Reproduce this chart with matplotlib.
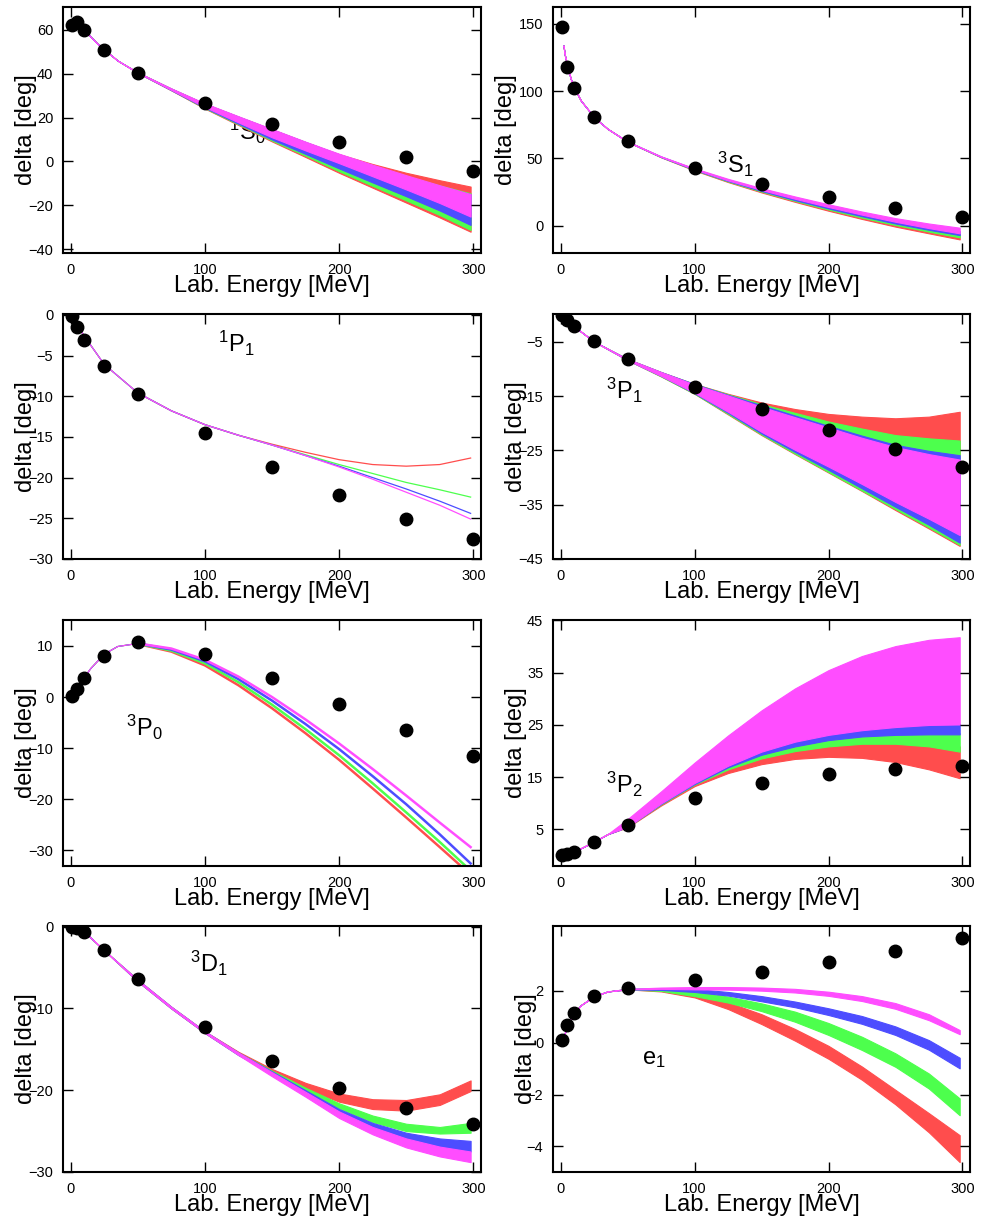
import matplotlib
matplotlib.use('Agg')
import matplotlib.pyplot as plt

plt.rcParams['font.family'] = ['Liberation Sans', 'DejaVu Sans']
plt.rcParams['mathtext.fontset'] = 'custom'
plt.rcParams['mathtext.rm'] = 'Liberation Sans'
plt.rcParams['mathtext.it'] = 'Liberation Sans:italic'
plt.rcParams['mathtext.bf'] = 'Liberation Sans:bold'

# ---------------- data ----------------
energy_data = [1, 5, 10, 25, 50, 100, 150, 200, 250, 300]
energy_band = [50, 75, 100, 125, 150, 175, 200, 225, 250, 275, 298]
colors = {'red': '#ff4d4d', 'green': '#4dff4d', 'blue': '#4d4dff', 'magenta': '#ff4dff'}
order = ['red', 'green', 'blue', 'magenta']

# 1S0
pwa_1S0 = [62.07, 63.63, 59.96, 50.90, 40.54, 26.78, 16.94, 8.94, 2.04, -4.46]
thin_e_1S0 = [10, 15, 20, 25, 35, 50]
thin_d_1S0 = [60.0, 56.8, 53.7, 51.0, 46.0, 40.5]
red_hi_1S0 = [40.6, 33.2, 26.3, 20.4, 14.6, 8.8, 3.3, -1.2, -5.2, -8.6, -11.5]
red_lo_1S0 = [40.4, 32.4, 24.1, 16.6, 9.1, 2.0, -5.2, -12.0, -18.8, -25.6, -32.1]
green_hi_1S0 = [40.6, 33.2, 26.3, 20.4, 14.6, 8.8, 3.2, -1.8, -6.7, -11.0, -14.6]
green_lo_1S0 = [40.4, 32.5, 24.3, 16.9, 9.5, 2.6, -4.5, -11.2, -17.8, -24.5, -31.3]
blue_hi_1S0 = [40.6, 33.2, 26.3, 20.4, 14.6, 8.8, 3.2, -2.0, -7.0, -11.5, -15.0]
blue_lo_1S0 = [40.4, 32.5, 24.5, 17.2, 10.0, 3.4, -3.2, -9.6, -15.9, -22.4, -29.0]
mag_hi_1S0 = [40.6, 33.3, 26.5, 20.6, 14.8, 9.0, 3.5, -1.5, -6.3, -10.9, -14.9]
mag_lo_1S0 = [40.4, 32.6, 24.8, 17.8, 11.0, 5.0, -0.8, -6.8, -12.8, -19.0, -25.2]

# 3S1
pwa_3S1 = [147.75, 118.18, 102.61, 80.63, 62.77, 43.23, 30.72, 21.22, 13.39, 6.60]
thin_e_3S1 = [2, 3, 5, 7.5, 10, 15, 25, 35, 50]
thin_d_3S1 = [134, 127, 118, 109, 102.5, 93, 80.5, 72, 62.4]
red_hi_3S1 = [62.5, 51.2, 41.9, 33.7, 26.4, 19.7, 13.4, 7.6, 2.2, -2.5, -6.0]
red_lo_3S1 = [62.3, 50.8, 41.0, 32.4, 24.7, 17.7, 11.1, 5.0, -0.7, -5.7, -10.2]
green_hi_3S1 = [62.5, 51.3, 42.1, 34.0, 26.8, 20.2, 14.0, 8.3, 3.0, -1.6, -5.0]
green_lo_3S1 = [62.3, 50.9, 41.3, 32.8, 25.3, 18.4, 12.0, 6.0, 0.5, -4.4, -8.7]
blue_hi_3S1 = [62.5, 51.4, 42.3, 34.3, 27.2, 20.7, 14.6, 9.0, 3.8, -0.7, -4.0]
blue_lo_3S1 = [62.3, 51.0, 41.5, 33.2, 25.8, 19.0, 12.8, 7.0, 1.6, -3.1, -7.0]
mag_hi_3S1 = [62.5, 51.5, 42.6, 34.8, 27.9, 21.7, 15.9, 10.5, 5.6, 1.6, -1.5]
mag_lo_3S1 = [62.3, 51.1, 41.8, 33.6, 26.5, 20.0, 13.9, 8.2, 2.9, -1.8, -5.7]

# 1P1 (lines)
pwa_1P1 = [-0.19, -1.49, -3.08, -6.31, -9.67, -14.52, -18.65, -22.18, -25.13, -27.58]
thin_e_1P1 = [1, 5, 10, 25, 50]
thin_d_1P1 = [-0.2, -1.3, -2.6, -6.1, -9.6]
red_1P1 = [-9.6, -11.8, -13.5, -14.8, -15.9, -16.9, -17.8, -18.4, -18.6, -18.4, -17.6]
green_1P1 = [-9.6, -11.8, -13.5, -14.8, -16.0, -17.2, -18.4, -19.5, -20.6, -21.5, -22.4]
blue_1P1 = [-9.6, -11.8, -13.5, -14.8, -16.0, -17.3, -18.6, -20.0, -21.4, -22.9, -24.4]
mag_1P1 = [-9.6, -11.8, -13.5, -14.8, -16.0, -17.3, -18.7, -20.2, -21.8, -23.4, -25.1]

# 3P1
pwa_3P1 = [-0.11, -0.94, -2.06, -4.88, -8.25, -13.26, -17.46, -21.30, -24.84, -28.07]
thin_e_3P1 = [1, 5, 10, 25, 50]
thin_d_3P1 = [-0.1, -1.0, -2.2, -5.0, -8.3]
red_hi_3P1 = [-8.2, -10.6, -12.8, -14.6, -16.2, -17.4, -18.3, -18.8, -19.1, -18.8, -17.9]
red_lo_3P1 = [-8.4, -11.4, -14.6, -18.4, -22.2, -25.7, -29.1, -32.5, -36.0, -39.4, -42.6]
green_hi_3P1 = [-8.2, -10.6, -12.8, -14.7, -16.5, -18.1, -19.7, -21.0, -22.2, -22.8, -23.2]
green_lo_3P1 = [-8.4, -11.4, -14.6, -18.3, -22.1, -25.6, -29.0, -32.4, -35.8, -39.2, -42.4]
blue_hi_3P1 = [-8.2, -10.6, -12.8, -14.8, -16.7, -18.6, -20.5, -22.3, -24.0, -25.1, -25.9]
blue_lo_3P1 = [-8.4, -11.3, -14.5, -18.1, -21.9, -25.3, -28.6, -32.0, -35.4, -38.7, -42.0]
mag_hi_3P1 = [-8.2, -10.6, -12.9, -14.9, -17.0, -18.9, -20.8, -22.7, -24.4, -25.7, -26.7]
mag_lo_3P1 = [-8.4, -11.3, -14.4, -17.9, -21.6, -24.9, -28.0, -31.2, -34.5, -37.6, -40.6]

# 3P0 (lines)
pwa_3P0 = [0.18, 1.63, 3.65, 8.13, 10.70, 8.46, 3.69, -1.44, -6.51, -11.47]
thin_e_3P0 = [5, 10, 15, 25, 35, 50]
thin_d_3P0 = [1.8, 3.8, 5.6, 8.4, 9.9, 10.5]
red_3P0 = [10.4, 8.9, 6.2, 2.3, -2.2, -7.1, -12.3, -17.9, -23.6, -29.4, -34.8]
green_3P0 = [10.45, 9.1, 6.6, 2.9, -1.5, -6.3, -11.4, -16.9, -22.6, -28.4, -34.0]
blue_3P0 = [10.5, 9.3, 7.0, 3.5, -0.7, -5.3, -10.2, -15.5, -21.0, -26.9, -32.6]
mag_3P0 = [10.5, 9.5, 7.3, 4.0, 0.0, -4.4, -9.1, -14.1, -19.3, -24.6, -29.4]

# 3P2
pwa_3P2 = [0.02, 0.25, 0.71, 2.56, 5.89, 11.01, 13.98, 15.63, 16.59, 17.17]
thin_e_3P2 = [1, 5, 10, 15, 25, 35, 50]
thin_d_3P2 = [0.05, 0.3, 0.8, 1.4, 2.7, 4.1, 6.2]
red_hi_3P2 = [5.6, 9.9, 13.8, 17.0, 19.4, 20.8, 21.6, 21.9, 21.8, 21.4, 20.9]
red_lo_3P2 = [5.4, 9.6, 13.3, 15.8, 17.5, 18.5, 18.9, 18.7, 17.9, 16.5, 14.8]
green_hi_3P2 = [5.6, 10.0, 14.0, 17.3, 19.9, 21.5, 22.7, 23.3, 23.5, 23.5, 23.4]
green_lo_3P2 = [5.5, 9.8, 13.6, 16.5, 18.6, 20.0, 20.9, 21.4, 21.4, 20.9, 19.9]
blue_hi_3P2 = [5.6, 10.1, 14.1, 17.5, 20.3, 22.1, 23.5, 24.3, 24.9, 25.2, 25.2]
blue_lo_3P2 = [5.5, 9.9, 13.7, 16.9, 19.3, 20.9, 22.1, 22.8, 23.1, 23.2, 23.2]
mag_hi_3P2 = [7.0, 12.3, 17.8, 23.0, 27.8, 32.0, 35.5, 38.2, 40.1, 41.3, 41.8]
mag_lo_3P2 = [5.5, 10.0, 13.9, 17.2, 19.9, 21.8, 23.1, 24.0, 24.6, 25.0, 25.1]

# 3D1
pwa_3D1 = [-0.005, -0.18, -0.68, -2.80, -6.43, -12.23, -16.48, -19.71, -22.21, -24.14]
thin_e_3D1 = [1, 5, 10, 25, 50]
thin_d_3D1 = [0.0, -0.15, -0.6, -2.9, -6.6]
red_hi_3D1 = [-6.5, -9.8, -12.8, -15.3, -17.4, -19.1, -20.4, -21.1, -21.2, -20.5, -18.8]
red_lo_3D1 = [-6.7, -10.0, -13.0, -15.6, -17.8, -19.8, -21.4, -22.3, -22.5, -21.8, -20.1]
green_hi_3D1 = [-6.5, -9.8, -12.8, -15.4, -17.6, -19.7, -21.6, -23.1, -24.1, -24.5, -24.0]
green_lo_3D1 = [-6.7, -10.0, -13.0, -15.7, -17.9, -20.1, -22.2, -23.9, -25.0, -25.3, -25.2]
blue_hi_3D1 = [-6.5, -9.8, -12.8, -15.4, -17.7, -20.0, -22.3, -24.0, -25.2, -25.9, -26.2]
blue_lo_3D1 = [-6.7, -10.0, -13.0, -15.7, -18.0, -20.4, -22.8, -24.8, -26.2, -27.1, -27.5]
mag_hi_3D1 = [-6.5, -9.8, -12.8, -15.4, -17.8, -20.2, -22.6, -24.5, -25.9, -26.9, -27.5]
mag_lo_3D1 = [-6.7, -10.0, -13.0, -15.7, -18.3, -20.8, -23.4, -25.4, -27.0, -28.1, -28.8]

# e1
pwa_e1 = [0.105, 0.672, 1.159, 1.793, 2.109, 2.420, 2.750, 3.130, 3.560, 4.030]
thin_e_e1 = [1, 5, 10, 15, 25, 35, 50]
thin_d_e1 = [0.1, 0.65, 1.15, 1.45, 1.8, 1.98, 2.07]
red_hi_e1 = [2.08, 2.04, 1.88, 1.56, 1.10, 0.53, -0.12, -0.92, -1.82, -2.72, -3.57]
red_lo_e1 = [2.06, 1.98, 1.75, 1.30, 0.72, 0.08, -0.62, -1.43, -2.38, -3.46, -4.61]
green_hi_e1 = [2.08, 2.09, 1.98, 1.78, 1.52, 1.20, 0.76, 0.23, -0.41, -1.19, -2.15]
green_lo_e1 = [2.06, 2.00, 1.80, 1.55, 1.22, 0.81, 0.30, -0.28, -0.93, -1.77, -2.80]
blue_hi_e1 = [2.08, 2.11, 2.08, 1.96, 1.80, 1.59, 1.33, 1.03, 0.63, 0.10, -0.58]
blue_lo_e1 = [2.06, 2.04, 1.96, 1.82, 1.60, 1.37, 1.07, 0.73, 0.30, -0.27, -0.99]
mag_hi_e1 = [2.08, 2.13, 2.15, 2.15, 2.13, 2.08, 1.97, 1.80, 1.53, 1.10, 0.49]
mag_lo_e1 = [2.06, 2.08, 2.06, 2.05, 2.01, 1.94, 1.81, 1.61, 1.31, 0.87, 0.33]

panels = [
    dict(label=r'$^{1}\mathrm{S}_{0}$', lpos=(118, 9.8), pwa=pwa_1S0, thin=(thin_e_1S0, thin_d_1S0),
         bands={'red': (red_lo_1S0, red_hi_1S0), 'green': (green_lo_1S0, green_hi_1S0),
                'blue': (blue_lo_1S0, blue_hi_1S0), 'magenta': (mag_lo_1S0, mag_hi_1S0)},
         ylim=(-41.8, 70.5), yticks=[-40, -20, 0, 20, 40, 60], ylx=-0.062),
    dict(label=r'$^{3}\mathrm{S}_{1}$', lpos=(116.5, 39.4), pwa=pwa_3S1, thin=(thin_e_3S1, thin_d_3S1),
         bands={'red': (red_lo_3S1, red_hi_3S1), 'green': (green_lo_3S1, green_hi_3S1),
                'blue': (blue_lo_3S1, blue_hi_3S1), 'magenta': (mag_lo_3S1, mag_hi_3S1)},
         ylim=(-20.3, 162.6), yticks=[0, 50, 100, 150], ylx=-0.086),
    dict(label=r'$^{1}\mathrm{P}_{1}$', lpos=(110, -4.55), pwa=pwa_1P1, thin=(thin_e_1P1, thin_d_1P1),
         lines={'red': red_1P1, 'green': green_1P1, 'blue': blue_1P1, 'magenta': mag_1P1}, lw=0.9,
         ylim=(-30, 0.1), yticks=[-30, -25, -20, -15, -10, -5, 0], ylx=-0.062),
    dict(label=r'$^{3}\mathrm{P}_{1}$', lpos=(33.6, -15.6), pwa=pwa_3P1, thin=(thin_e_3P1, thin_d_3P1),
         bands={'red': (red_lo_3P1, red_hi_3P1), 'green': (green_lo_3P1, green_hi_3P1),
                'blue': (blue_lo_3P1, blue_hi_3P1), 'magenta': (mag_lo_3P1, mag_hi_3P1)},
         ylim=(-45, 0.1), yticks=[-45, -35, -25, -15, -5], ylx=-0.062),
    dict(label=r'$^{3}\mathrm{P}_{0}$', lpos=(41.2, -7.6), pwa=pwa_3P0, thin=(thin_e_3P0, thin_d_3P0),
         lines={'red': red_3P0, 'green': green_3P0, 'blue': blue_3P0, 'magenta': mag_3P0}, lw=1.8,
         ylim=(-33.1, 15.1), yticks=[-30, -20, -10, 0, 10], ylx=-0.062),
    dict(label=r'$^{3}\mathrm{P}_{2}$', lpos=(33.6, 11.9), pwa=pwa_3P2, thin=(thin_e_3P2, thin_d_3P2),
         bands={'red': (red_lo_3P2, red_hi_3P2), 'green': (green_lo_3P2, green_hi_3P2),
                'blue': (blue_lo_3P2, blue_hi_3P2), 'magenta': (mag_lo_3P2, mag_hi_3P2)},
         ylim=(-2.0, 45.1), yticks=[5, 15, 25, 35, 45], ylx=-0.062),
    dict(label=r'$^{3}\mathrm{D}_{1}$', lpos=(89, -5.5), pwa=pwa_3D1, thin=(thin_e_3D1, thin_d_3D1),
         bands={'red': (red_lo_3D1, red_hi_3D1), 'green': (green_lo_3D1, green_hi_3D1),
                'blue': (blue_lo_3D1, blue_hi_3D1), 'magenta': (mag_lo_3D1, mag_hi_3D1)},
         ylim=(-30, 0.1), yticks=[-30, -20, -10, 0], ylx=-0.062),
    dict(label=r'$\mathrm{e}_{1}$', lpos=(61, -0.82), pwa=pwa_e1, thin=(thin_e_e1, thin_d_e1),
         bands={'red': (red_lo_e1, red_hi_e1), 'green': (green_lo_e1, green_hi_e1),
                'blue': (blue_lo_e1, blue_hi_e1), 'magenta': (mag_lo_e1, mag_hi_e1)},
         ylim=(-4.99, 4.51), yticks=[-4, -2, 0, 2], ylx=-0.038),
]

# ---------------- layout ----------------
fig = plt.figure(figsize=(9.9, 12.18), dpi=100)
col_left = [0.0636, 0.5586]
col_width = [0.4222, 0.4212]
row_bottom = [0.7923, 0.5411, 0.2890, 0.0378]
row_height = [0.2020, 0.2011, 0.2020, 0.2020]

for i, p in enumerate(panels):
    r, c = divmod(i, 2)
    ax = fig.add_axes([col_left[c], row_bottom[r], col_width[c], row_height[r]])
    te, td = p['thin']
    if 'bands' in p:
        for name in order:
            lo, hi = p['bands'][name]
            x = list(te[:-1]) + energy_band
            ylo = list(td[:-1]) + list(lo)
            yhi = list(td[:-1]) + list(hi)
            ax.fill_between(x, ylo, yhi, facecolor=colors[name], edgecolor=colors[name],
                            linewidth=0.8, zorder=1)
    else:
        for name in order:
            ax.plot(te, td, color=colors[name], lw=0.8, zorder=1)
            ax.plot(energy_band, p['lines'][name], color=colors[name], lw=p['lw'], zorder=1)
    ax.plot(energy_data, p['pwa'], 'o', color='black', ms=9, zorder=3)
    ax.text(p['lpos'][0], p['lpos'][1], p['label'], fontsize=17, ha='left', va='baseline', zorder=0.5)

    ax.set_xlim(-5.8, 305.7)
    ax.set_ylim(*p['ylim'])
    ax.set_xticks([0, 100, 200, 300])
    ax.set_yticks(p['yticks'])
    ax.tick_params(direction='in', length=7, width=1.0, top=True, right=True,
                   labelsize=10.5, pad=7)
    for s in ax.spines.values():
        s.set_linewidth(1.5)
    ax.set_xlabel('Lab. Energy [MeV]', fontsize=17)
    ax.xaxis.set_label_coords(0.5, -0.089)
    ax.set_ylabel('delta [deg]', fontsize=17)
    ax.yaxis.set_label_coords(p['ylx'], 0.5)

fig.savefig('out.png', dpi=100)
